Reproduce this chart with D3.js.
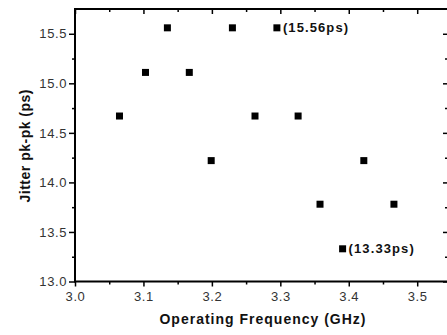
<!DOCTYPE html>
<html>
<head>
<meta charset="utf-8">
<script src="https://cdn.jsdelivr.net/npm/d3@7"></script>
<style>
  body { margin: 0; background: #fff; }
  svg { display: block; font-family: 'Liberation Sans', Arial, sans-serif; }
</style>
</head>
<body>
<svg width="447" height="335"></svg>
<script>
// data
const freq = [3.065, 3.103, 3.135, 3.167, 3.199, 3.230, 3.263, 3.295, 3.326, 3.358, 3.391, 3.422, 3.466]
const jitter = [14.67, 15.11, 15.56, 15.11, 14.22, 15.56, 14.67, 15.56, 14.67, 13.78, 13.33, 14.22, 13.78]
const noteIdx = [7, 10]
const noteText = ['(15.56ps)', '(13.33ps)']
const xTicks = [3.0, 3.1, 3.2, 3.3, 3.4, 3.5]
const yTicks = [13.0, 13.5, 14.0, 14.5, 15.0, 15.5]

const svg = d3.select('svg')
const plotL = 75, plotR = 448, plotT = 9, plotB = 281.5

const x = d3.scaleLinear().domain([3.0, 3.545]).range([plotL, plotR])
const y = d3.scaleLinear().domain([13.0, 15.75]).range([plotB, plotT])

const minorX = d3.range(3.05, 3.55, 0.1)
const minorY = d3.range(13.25, 15.75, 0.5)

//axes
const bx = svg.append('g').attr('transform', `translate(0,${plotB})`)
    .call(d3.axisBottom(x).tickValues(xTicks).tickFormat(d3.format('.1f')).tickSize(5).tickPadding(5))
bx.append('g').call(d3.axisBottom(x).tickValues(minorX).tickFormat('').tickSize(3))
const ly = svg.append('g').attr('transform', `translate(${plotL},0)`)
    .call(d3.axisLeft(y).tickValues(yTicks).tickFormat(d3.format('.1f')).tickSize(6).tickPadding(2))
ly.append('g').call(d3.axisLeft(y).tickValues(minorY).tickFormat('').tickSize(3))
const tx = svg.append('g').attr('transform', `translate(0,${plotT})`)
    .call(d3.axisBottom(x).tickValues(xTicks).tickFormat('').tickSize(5))
tx.append('g').call(d3.axisBottom(x).tickValues(minorX).tickFormat('').tickSize(3))
const ry = svg.append('g').attr('transform', `translate(${plotR},0)`)
    .call(d3.axisLeft(y).tickValues(yTicks).tickFormat('').tickSize(5))
ry.append('g').call(d3.axisLeft(y).tickValues(minorY).tickFormat('').tickSize(3))

svg.selectAll('.domain').remove()
svg.selectAll('.tick line').attr('stroke', '#000').attr('stroke-width', 1.5)
svg.selectAll('.tick text').attr('font-size', 13).attr('fill', '#333')
    .attr('letter-spacing', 0.6)
    .attr('font-family', "'Liberation Sans', Arial, sans-serif")

//frame
svg.append('rect')
    .attr('x', plotL).attr('y', plotT)
    .attr('width', plotR - plotL).attr('height', plotB - plotT)
    .attr('fill', 'none').attr('stroke', '#000').attr('stroke-width', 2)

//labels
svg.append('text')
    .text('Operating Frequency (GHz)')
    .attr('x', 263).attr('y', 324)
    .attr('text-anchor', 'middle')
    .attr('letter-spacing', 1)
    .attr('font-size', 14).attr('font-weight', 'bold').attr('fill', '#111')
svg.append('text')
    .text('Jitter pk-pk (ps)')
    .attr('transform', `translate(30,${y(14.37)}) rotate(-90)`)
    .attr('text-anchor', 'middle')
    .attr('letter-spacing', 0.5)
    .attr('font-size', 14).attr('font-weight', 'bold').attr('fill', '#111')

//points
const sz = 7
svg.selectAll('.pt')
    .data(freq)
    .enter().append('rect')
    .attr('class', 'pt')
    .attr('x', d => x(d) - sz / 2)
    .attr('y', (d, i) => y(jitter[i]) - sz / 2)
    .attr('width', sz).attr('height', sz)
    .attr('fill', '#000')

svg.selectAll('.note')
    .data(noteIdx)
    .enter().append('text')
    .attr('class', 'note')
    .text((d, i) => noteText[i])
    .attr('x', d => x(freq[d]) + 6)
    .attr('y', d => y(jitter[d]))
    .attr('dy', '.35em')
    .attr('letter-spacing', 1.1)
    .attr('font-size', 13).attr('font-weight', 'bold').attr('fill', '#111')
</script>
</body>
</html>
